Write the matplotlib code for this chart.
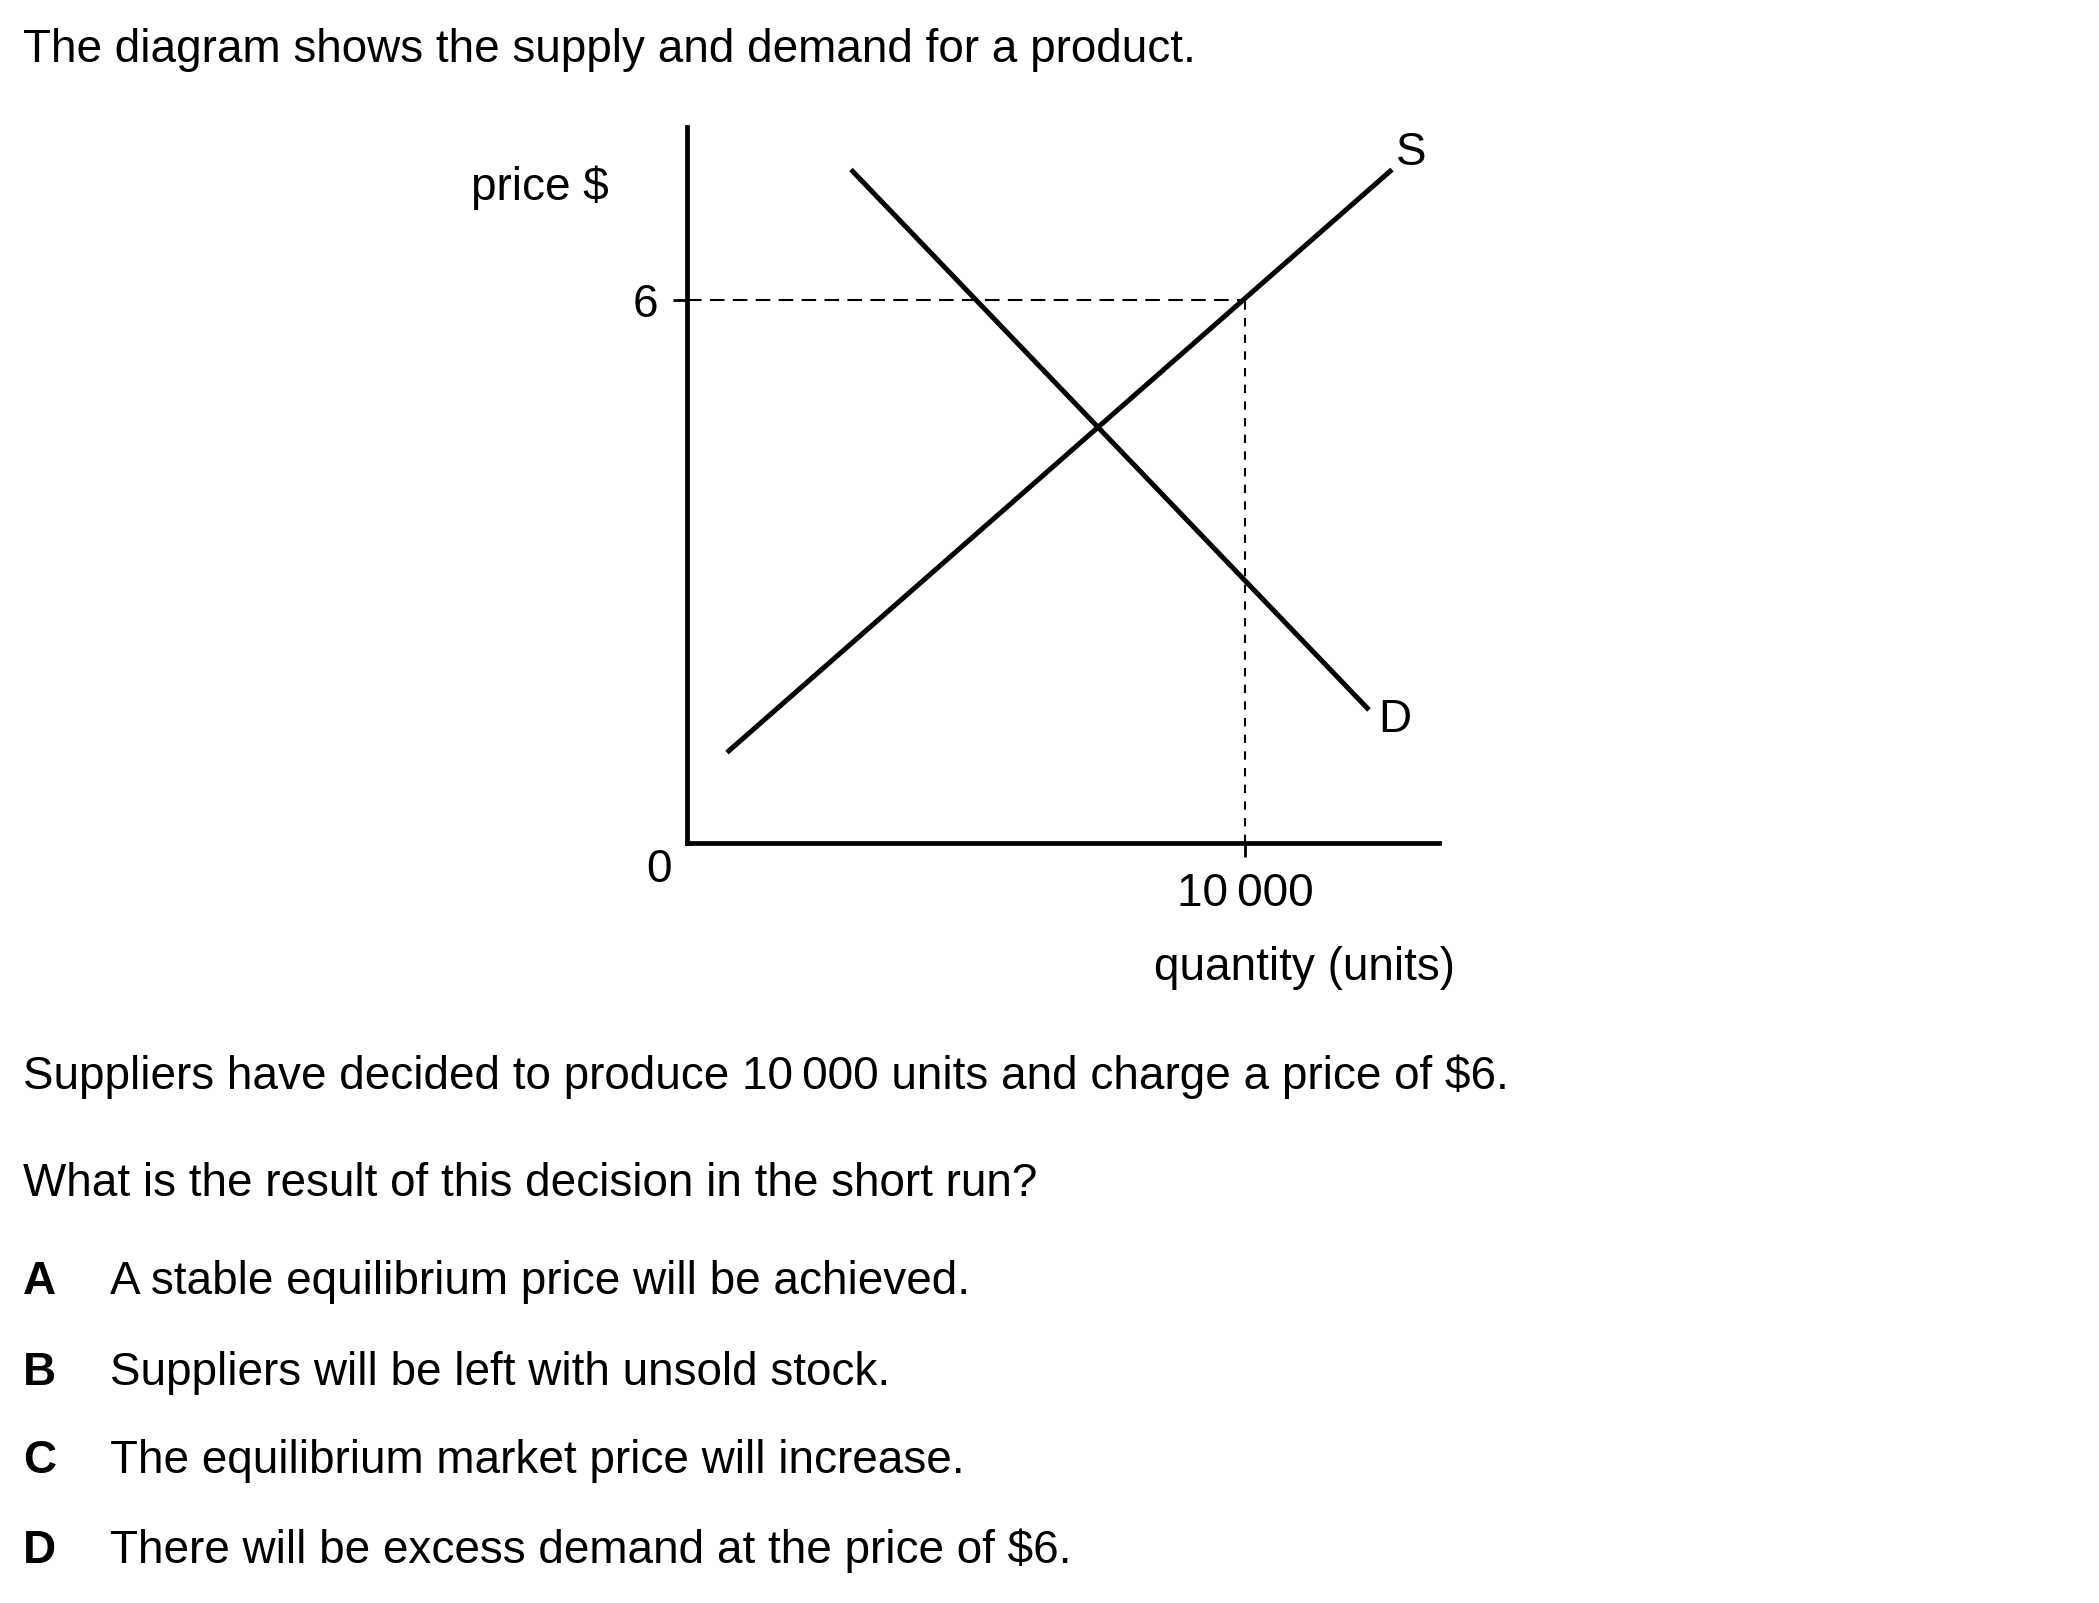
import matplotlib.pyplot as plt

plt.rcParams["font.family"] = ["Liberation Sans", "DejaVu Sans"]

W, H = 2099, 1603

# curves (quantity in units, price in $)
supply_q = [717, 12634]
supply_p = [1.00, 7.44]
demand_q = [2939, 12222]
demand_p = [7.44, 1.47]

set_qty = 10000
set_price = 6
qty_max = 13477
price_max = 7.91

question = "The diagram shows the supply and demand for a product."
decision = "Suppliers have decided to produce 10\u2009000 units and charge a price of $6."
ask = "What is the result of this decision in the short run?"
letters = ["A", "B", "C", "D"]
options = [
    "A stable equilibrium price will be achieved.",
    "Suppliers will be left with unsold stock.",
    "The equilibrium market price will increase.",
    "There will be excess demand at the price of $6.",
]


def fx(x):
    return x / W


def fy(y):
    return 1 - y / H


FS = 33

fig = plt.figure(figsize=(W / 100, H / 100), dpi=100)
ax = fig.add_axes([fx(687), fy(843), (1439 - 687) / W, (843 - 127) / H])

ax.plot(supply_q, supply_p, color="black", lw=3.6, solid_capstyle="butt")
ax.plot(demand_q, demand_p, color="black", lw=3.6, solid_capstyle="butt")

ax.plot([0, set_qty], [set_price, set_price], color="black", lw=1.5,
        linestyle=(0, (7, 4)))
ax.plot([set_qty, set_qty], [0, set_price], color="black", lw=1.5,
        linestyle=(0, (4, 4)))

ax.set_xlim(0, qty_max)
ax.set_ylim(0, price_max)
for side in ["top", "right"]:
    ax.spines[side].set_visible(False)
for side in ["left", "bottom"]:
    ax.spines[side].set_linewidth(3.4)
    ax.spines[side].set_capstyle("projecting")

ax.set_yticks([set_price])
ax.set_yticklabels(["6"])
ax.set_xticks([set_qty])
ax.set_xticklabels(["10\u2009000"])
ax.tick_params(axis="y", length=10, width=2, pad=11, labelsize=FS)
ax.tick_params(axis="x", length=10, width=2, pad=11, labelsize=FS)

fig.text(fx(609), fy(200), "price $", ha="right", va="baseline", fontsize=FS)
fig.text(fx(659), fy(870), "0", ha="center", va="center", fontsize=FS)
fig.text(fx(1305), fy(968), "quantity (units)", ha="center", va="center", fontsize=FS)
fig.text(fx(1411), fy(153), "S", ha="center", va="center", fontsize=FS)
fig.text(fx(1395), fy(720), "D", ha="center", va="center", fontsize=FS)

fig.text(fx(23), fy(62), question, ha="left", va="baseline", fontsize=FS)
fig.text(fx(23), fy(1089), decision, ha="left", va="baseline", fontsize=FS)
fig.text(fx(23), fy(1196), ask, ha="left", va="baseline", fontsize=FS)

option_y = [1294, 1385, 1473, 1563]
for letter, text, y in zip(letters, options, option_y):
    fig.text(fx(23), fy(y), letter, ha="left", va="baseline", fontsize=FS,
             fontweight="bold")
    fig.text(fx(110), fy(y), text, ha="left", va="baseline", fontsize=FS)

fig.savefig("out.png", dpi=100)
